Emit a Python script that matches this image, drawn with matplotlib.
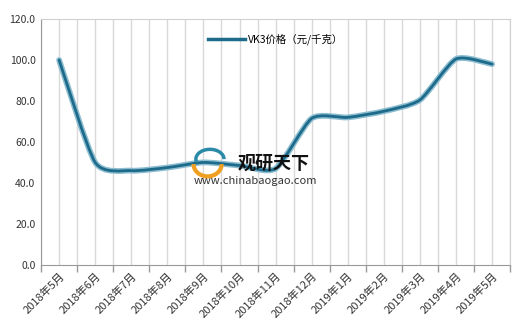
import numpy as np
import matplotlib
matplotlib.use("Agg")
import matplotlib.pyplot as plt
from matplotlib.path import Path
from matplotlib.patches import PathPatch, Arc
from matplotlib.lines import Line2D

plt.rcParams['font.family'] = ['Noto Sans CJK SC', 'DejaVu Sans']

# données
mois = ["2018年5月", "2018年6月", "2018年7月", "2018年8月", "2018年9月",
        "2018年10月", "2018年11月", "2018年12月", "2019年1月", "2019年2月",
        "2019年3月", "2019年4月", "2019年5月"]
prix = [100.0, 50.0, 46.0, 47.5, 50.0, 48.5, 47.0, 71.5, 72.0, 75.0, 80.5, 100.5, 98.0]
y_ticks = [0, 20, 40, 60, 80, 100, 120]
serie = "VK3价格（元/千克）"

x = np.arange(len(mois))
y = np.array(prix)

# courbe lissée (bezier type Excel)
def courbe(x, y, t=0.11):
    verts = [(x[0], y[0])]
    codes = [Path.MOVETO]
    n = len(x)
    for i in range(n - 1):
        x0, y0 = x[max(i - 1, 0)], y[max(i - 1, 0)]
        x1, y1 = x[i], y[i]
        x2, y2 = x[i + 1], y[i + 1]
        x3, y3 = x[min(i + 2, n - 1)], y[min(i + 2, n - 1)]
        c1 = (x1 + t * (x2 - x0), y1 + t * (y2 - y0))
        c2 = (x2 - t * (x3 - x1), y2 - t * (y3 - y1))
        verts += [c1, c2, (x2, y2)]
        codes += [Path.CURVE4] * 3
    return Path(verts, codes)

fig = plt.figure(figsize=(5.2, 3.34), dpi=100)
ax = fig.add_axes([0.079, 0.207, 0.902, 0.736])

chemin = courbe(x, y)
ax.add_patch(PathPatch(chemin, fill=False, ec="#8cbdd0", lw=4.2, capstyle="round", zorder=3))
ax.add_patch(PathPatch(chemin, fill=False, ec="#1d6a8a", lw=2.0, capstyle="round", zorder=4))

ax.set_xlim(-0.5, len(mois) - 0.5)
ax.set_ylim(0, 120)

# graduations
ax.set_xticks(np.arange(-0.5, len(mois), 1.0))
ax.set_xticklabels([])
ax.set_xticks(x, minor=True)
ax.set_xticklabels(mois, minor=True, rotation=45, ha="right", va="top",
                   rotation_mode="anchor", fontsize=8, color="#333333")
ax.tick_params(axis="x", which="major", length=5, color="#999999", width=1)
ax.tick_params(axis="x", which="minor", length=0, pad=4)
ax.set_yticks(y_ticks)
ax.set_yticklabels(["%.1f" % v for v in y_ticks], fontsize=7.5, color="#333333")
ax.tick_params(axis="y", length=0, pad=4)

for g in np.arange(-0.5, len(mois), 0.5):
    ax.axvline(g, color="#d9d9d9", lw=1, zorder=1)

for s in ax.spines.values():
    s.set_color("#d0d0d0")
ax.spines["left"].set_color("#999999")
ax.spines["bottom"].set_color("#999999")

h = [Line2D([0], [0], color="#1d6a8a", lw=2.5)]
ax.legend(h, [serie], loc="upper center", bbox_to_anchor=(0.5, 0.98),
          frameon=False, fontsize=7.5, handlelength=3.5, handletextpad=0.3)

# filigrane
ax.text(0.495, 0.415, "观研天下", transform=ax.transAxes, fontsize=13,
        fontweight="bold", color="#111111", ha="center", va="center", zorder=5)
ax.text(0.456, 0.341, "www.chinabaogao.com", transform=ax.transAxes, fontsize=8,
        color="#333333", ha="center", va="center", zorder=5)
# petit logo
ax.add_patch(Arc((0.355, 0.41), 0.06, 0.1, theta1=180, theta2=360,
                 transform=ax.transAxes, color="#f0a020", lw=3, zorder=5))
ax.add_patch(Arc((0.36, 0.43), 0.06, 0.08, theta1=0, theta2=200,
                 transform=ax.transAxes, color="#2a8aa8", lw=2.5, zorder=5))

plt.savefig("out.png", dpi=100)
